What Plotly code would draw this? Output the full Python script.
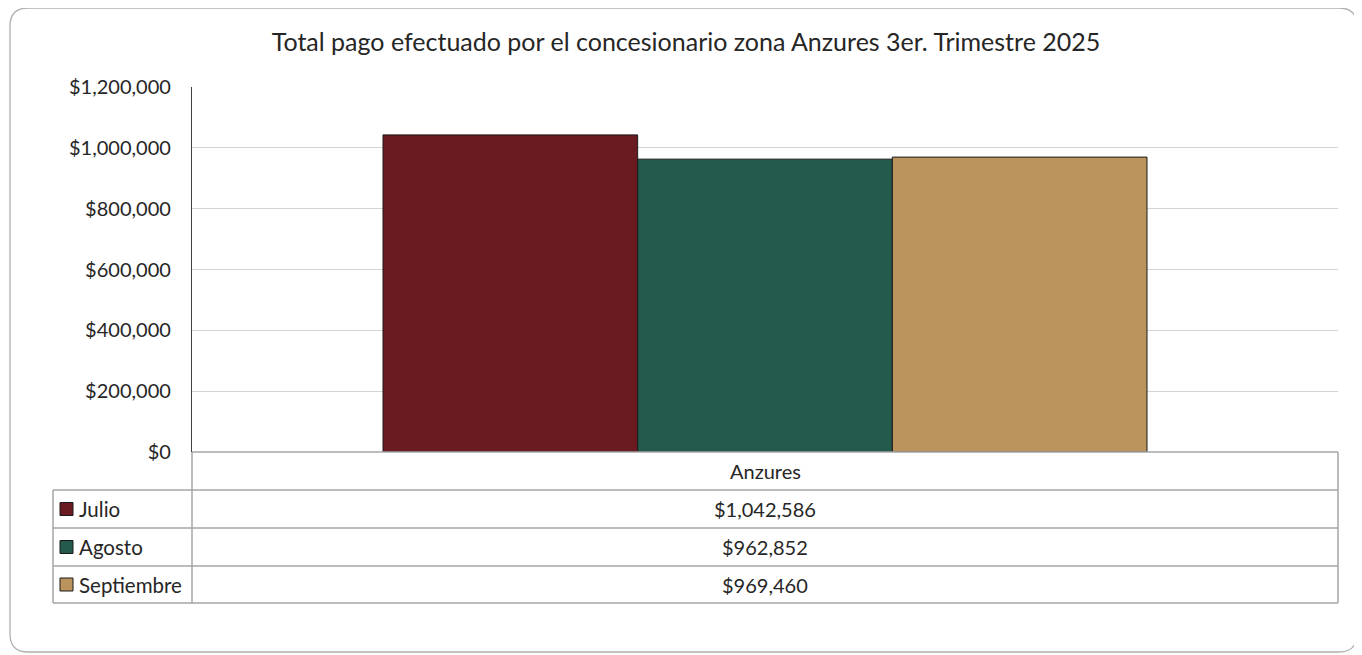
import plotly.graph_objects as go

# Datos del tercer trimestre 2025
zona = "Anzures"
meses = ["Julio", "Agosto", "Septiembre"]
montos = [1042586, 962852, 969460]
colores = ["#6A1A21", "#245A4C", "#BA935D"]
ticks_y = [0, 200000, 400000, 600000, 800000, 1000000, 1200000]

OFF = 8                      # margen del body de la pagina
W, H = 1362 - OFF, 655 - OFF
L, R, T, B = 192, 1338, 87, 452   # area de trazado (pixeles de la referencia)
FONT = "Lato"
TXT = "#262626"
GRIS = "#a6a6a6"


# pixeles de la referencia -> coordenadas paper
def px(x):
    return (x - L) / (R - L)


def py(y):
    return (B - y) / (B - T)


fig = go.Figure()
for mes, monto, color in zip(meses, montos, colores):
    fig.add_trace(go.Bar(x=[zona], y=[monto], name=mes, marker_color=color,
                         marker_line_color="#1a1a1a", marker_line_width=1))

shapes = []
annotations = []

# marco redondeado exterior
x0, y0, x1, y1, r = px(10), py(8), px(1357), py(652), 18
rx, ry = r / (R - L), r / (B - T)
shapes.append(dict(
    type="path", xref="paper", yref="paper", layer="below",
    line=dict(color="#b0b0b0", width=1.3),
    path=(f"M {x0 + rx},{y0} L {x1 - rx},{y0} Q {x1},{y0} {x1},{y0 - ry} "
          f"L {x1},{y1 + ry} Q {x1},{y1} {x1 - rx},{y1} L {x0 + rx},{y1} "
          f"Q {x0},{y1} {x0},{y1 + ry} L {x0},{y0 - ry} Q {x0},{y0} {x0 + rx},{y0} Z")))

# tabla de datos
filas = [452, 490, 528, 566, 603]
lin = dict(color=GRIS, width=1.5)
for yv in filas[1:]:
    shapes.append(dict(type="line", xref="paper", yref="paper", x0=px(53), x1=px(1338),
                       y0=py(yv), y1=py(yv), line=lin))
shapes.append(dict(type="line", xref="paper", yref="paper", x0=px(192), x1=px(192),
                   y0=py(452), y1=py(603), line=lin))
shapes.append(dict(type="line", xref="paper", yref="paper", x0=px(1338), x1=px(1338),
                   y0=py(452), y1=py(603), line=lin))
shapes.append(dict(type="line", xref="paper", yref="paper", x0=px(53), x1=px(53),
                   y0=py(490), y1=py(603), line=lin))
shapes.append(dict(type="line", xref="paper", yref="paper", x0=px(192), x1=px(1338),
                   y0=py(452), y1=py(452), line=lin))

fnt = dict(size=20, color=TXT, family=FONT)
annotations.append(dict(text=zona, xref="paper", yref="paper", x=px(765), y=py(471),
                        xanchor="center", yanchor="middle", showarrow=False, font=fnt))
for i, (mes, monto, color) in enumerate(zip(meses, montos, colores)):
    yc = (filas[i + 1] + filas[i + 2]) / 2
    shapes.append(dict(type="rect", xref="paper", yref="paper",
                       x0=px(60), x1=px(73), y0=py(yc - 6.5), y1=py(yc + 6.5),
                       fillcolor=color, line=dict(color="#1a1a1a", width=1)))
    annotations.append(dict(text=mes, xref="paper", yref="paper", x=px(77), y=py(yc),
                            xanchor="left", yanchor="middle", showarrow=False,
                            font=dict(size=20.5, color=TXT, family=FONT)))
    annotations.append(dict(text=f"${monto:,}", xref="paper", yref="paper", x=px(765), y=py(yc),
                            xanchor="center", yanchor="middle", showarrow=False, font=fnt))

fig.update_layout(
    width=W, height=H,
    margin=dict(l=L - OFF, r=W - (R - OFF), t=T - OFF, b=H - (B - OFF)),
    paper_bgcolor="white", plot_bgcolor="white",
    barmode="group", bargap=1 / 3, bargroupgap=0,
    showlegend=False,
    title=dict(text="Total pago efectuado por el concesionario zona Anzures 3er. Trimestre 2025",
               x=(686 - OFF) / W, xanchor="center", y=1 - (42 - OFF) / H, yanchor="middle",
               font=dict(size=25, color=TXT, family=FONT)),
    font=dict(family=FONT, color=TXT),
    shapes=shapes, annotations=annotations,
)
fig.update_xaxes(showticklabels=False, showline=False, showgrid=False, zeroline=False)
fig.update_yaxes(range=[0, 1200000], tickvals=ticks_y,
                 ticktext=[f"${v:,}" for v in ticks_y],
                 showgrid=True, gridcolor="#d4d4d4", gridwidth=1, zeroline=False,
                 showline=True, linecolor="#404040", linewidth=1.3,
                 ticklabelstandoff=16, tickfont=dict(size=20, color=TXT, family=FONT))

fig.write_html("out.html")
